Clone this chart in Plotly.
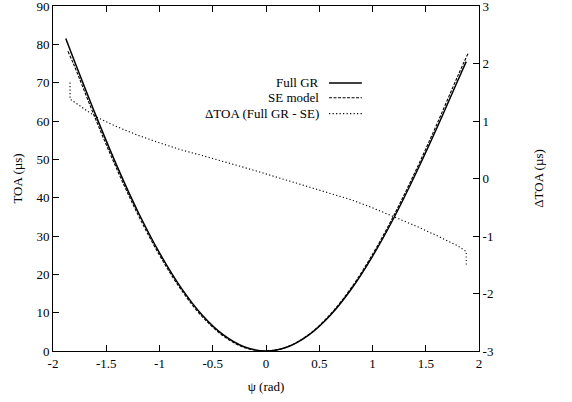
import plotly.graph_objects as go

# Full GR time of arrival (microseconds) vs psi (rad)
psi_gr = [-1.88, -1.8, -1.6, -1.4, -1.2, -1.0, -0.8, -0.6, -0.4, -0.2, 0.0,
          0.2, 0.4, 0.6, 0.8, 1.0, 1.2, 1.4, 1.6, 1.8, 1.88]
toa_gr = [81.5, 75.7, 61.6, 48.3, 36.2, 25.6, 16.6, 9.4, 4.2, 1.05, 0.0,
          1.05, 4.14, 9.2, 16.1, 24.7, 34.7, 45.9, 57.9, 70.5, 75.5]

# SE model
psi_se = [-1.86, -1.8, -1.6, -1.4, -1.2, -1.0, -0.8, -0.6, -0.4, -0.2, 0.0,
          0.2, 0.4, 0.6, 0.8, 1.0, 1.2, 1.4, 1.6, 1.8, 1.9]
toa_se = [78.2, 74.4, 60.5, 47.4, 35.45, 25.0, 16.1, 9.0, 3.9, 0.86, 0.0,
          1.08, 4.28, 9.45, 16.47, 25.2, 35.36, 46.7, 58.9, 71.7, 77.8]

# Delta TOA (Full GR - SE), right axis
psi_d = [-1.84, -1.84, -1.8, -1.7, -1.6, -1.4, -1.2, -1.0, -0.8, -0.6, -0.4, -0.2, 0.0,
         0.2, 0.4, 0.6, 0.8, 1.0, 1.2, 1.4, 1.6, 1.8, 1.88, 1.88]
dtoa = [1.67, 1.38, 1.33, 1.20, 1.075, 0.90, 0.75, 0.62, 0.50, 0.40, 0.30, 0.19, 0.08,
        -0.03, -0.14, -0.25, -0.37, -0.51, -0.66, -0.82, -0.99, -1.17, -1.27, -1.5]

x_ticks = [-2, -1.5, -1, -0.5, 0, 0.5, 1, 1.5, 2]
x_ticktext = ["-2", "-1.5", "-1", "-0.5", "0", "0.5", "1", "1.5", "2"]
y_ticks = [0, 10, 20, 30, 40, 50, 60, 70, 80, 90]
y2_ticks = [-3, -2, -1, 0, 1, 2, 3]
y2_ticktext = ["-3", "-2", "-1", "0", "1", "2", "3"]

names = ["Full GR", "SE model", "\u0394TOA (Full GR - SE)"]
dashes = ["solid", "3px,1.5px", "1.2px,2.3px"]
widths = [1.5, 1.1, 1.1]

FONT = "Liberation Serif, Times New Roman, serif"
FS = 13

fig = go.Figure()
fig.add_trace(go.Scatter(x=psi_gr, y=toa_gr, mode="lines", name=names[0],
                         line=dict(color="black", width=widths[0], dash=dashes[0], shape="spline"),
                         showlegend=False))
fig.add_trace(go.Scatter(x=psi_se, y=toa_se, mode="lines", name=names[1],
                         line=dict(color="black", width=widths[1], dash=dashes[1], shape="spline"),
                         showlegend=False))
fig.add_trace(go.Scatter(x=psi_d, y=dtoa, mode="lines", name=names[2], yaxis="y2",
                         line=dict(color="black", width=widths[2], dash=dashes[2]),
                         showlegend=False))

# manual gnuplot-style legend (text right-aligned, sample to the right)
leg_y = [0.777, 0.734, 0.688]
for name, dash, w, yy in zip(names, dashes, widths, leg_y):
    fig.add_annotation(x=0.629, y=yy, xref="paper", yref="paper", text=name,
                       showarrow=False, xanchor="right", yanchor="middle",
                       font=dict(family=FONT, size=FS, color="black"))
    fig.add_shape(type="line", xref="paper", yref="paper", x0=0.648, x1=0.725,
                  y0=yy, y1=yy, line=dict(color="black", width=w, dash=dash))

axis_common = dict(showgrid=False, zeroline=False, showline=True, linecolor="black",
                   linewidth=1, ticks="inside", ticklen=6, tickcolor="black",
                   automargin=False, ticklabeloverflow="allow",
                   tickfont=dict(family=FONT, size=FS, color="black"))

fig.update_layout(
    width=572, height=402,
    margin=dict(l=53, r=93, t=6, b=51),
    paper_bgcolor="white", plot_bgcolor="white",
    font=dict(family=FONT, size=FS, color="black"),
    xaxis=dict(range=[-2, 2], tickvals=x_ticks, ticktext=x_ticktext, mirror="ticks",
               title=dict(text="\u03c8 (rad)", font=dict(family=FONT, size=FS), standoff=12),
               **axis_common),
    yaxis=dict(range=[0, 90], tickvals=y_ticks,
               title=dict(text="TOA (\u00b5s)", font=dict(family=FONT, size=FS), standoff=10),
               **axis_common),
    yaxis2=dict(range=[-3, 3], tickvals=y2_ticks, ticktext=y2_ticktext, overlaying="y",
                side="right",
                title=dict(text="\u0394TOA (\u00b5s)", font=dict(family=FONT, size=FS), standoff=41),
                **axis_common),
)

fig.write_html("out.html", config={"displayModeBar": False},
               post_script="document.body.style.margin='0px';")
